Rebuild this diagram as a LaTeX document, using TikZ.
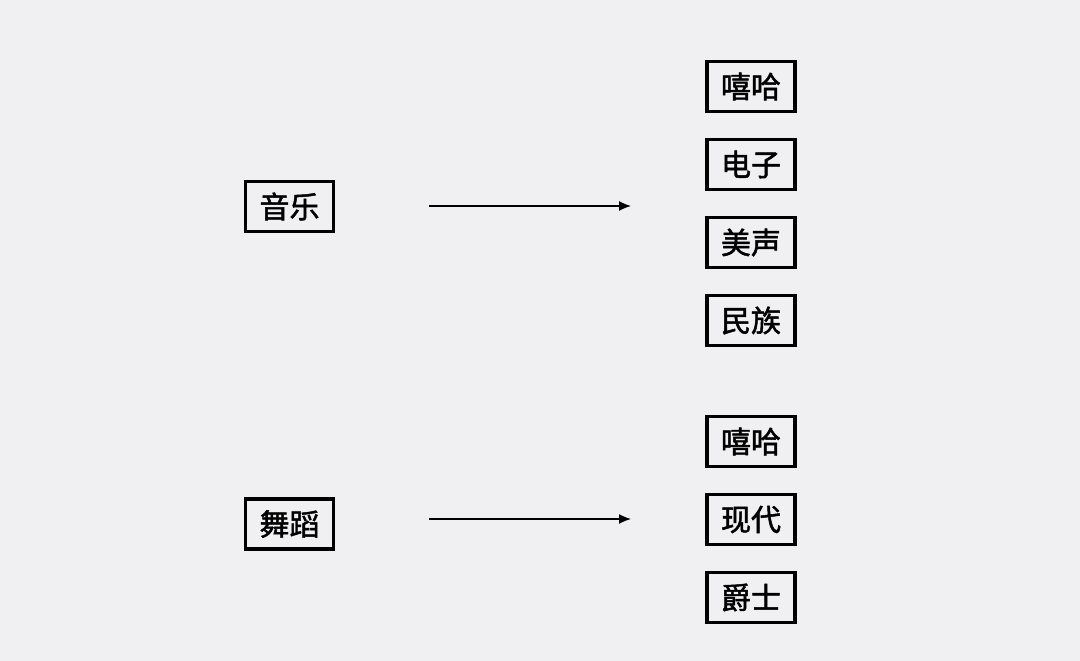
\documentclass[tikz,border=0pt]{standalone}
\usepackage{fontspec}
\newfontfamily\cjk[FakeBold=1.6]{Noto Sans CJK SC}
\usetikzlibrary{arrows.meta,positioning}
\definecolor{bg}{RGB}{240,239,241}

\begin{document}
\begin{tikzpicture}[x=1pt,y=-1pt,node distance=24.4pt,
    box/.style={draw,line width=3.6pt,minimum width=88pt,minimum height=50pt,inner sep=0,font=\cjk\fontsize{30}{30}\selectfont},
    link/.style={line width=1.3pt,-{Latex[length=12pt,width=10pt]}}]
    \fill[bg] (0,0) rectangle (1080,661);
    \useasboundingbox (0,0) rectangle (1080,661);
    \node[box] (music) at (289.5,206.5) {音乐};
    \node[box] (dance) at (289.5,524) {舞蹈};
    \node[box] (hiphopa) at (751,86.5) {嘻哈};
    \node[box,below=of hiphopa] (electro) {电子};
    \node[box,below=of electro] (belcanto) {美声};
    \node[box,below=of belcanto] (folk) {民族};
    \node[box] (hiphopb) at (751,441.5) {嘻哈};
    \node[box,below=of hiphopb] (modern) {现代};
    \node[box,below=of modern] (jazz) {爵士};
    \coordinate (ma) at (429,206);
    \coordinate (mb) at (631,206);
    \coordinate (da) at (429,519);
    \coordinate (db) at (631,519);
    \draw[link] (ma) -- (mb);
    \draw[link] (da) -- (db);
  \end{tikzpicture}
\end{document}
